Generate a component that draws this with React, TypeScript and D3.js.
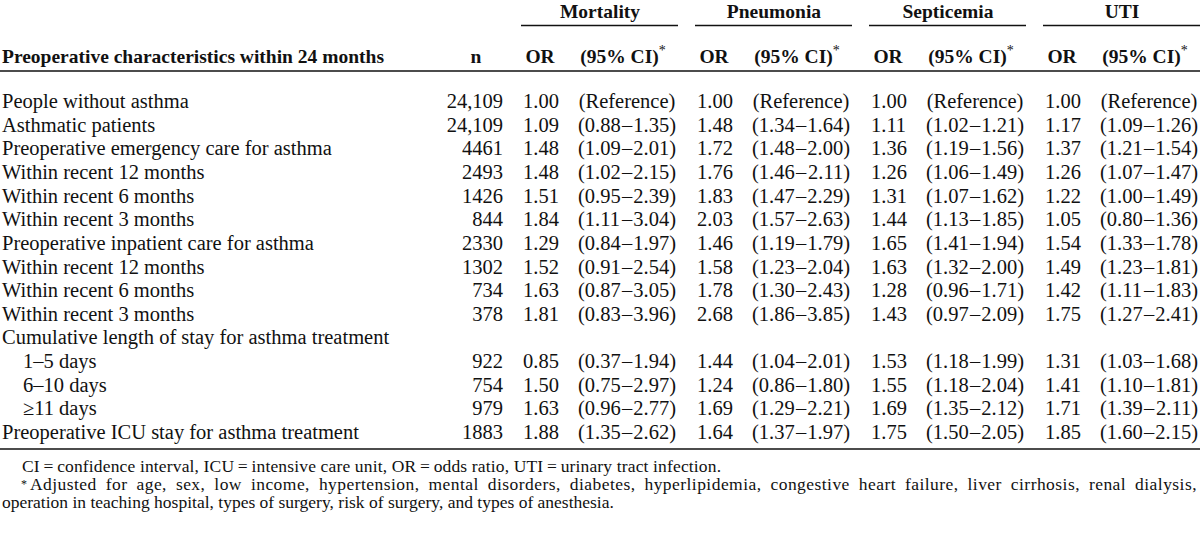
import React, { useLayoutEffect, useRef, useState } from "react";
import * as d3 from "d3";

const outcomes = ["Mortality", "Pneumonia", "Septicemia", "UTI"];
const characteristics = [
  "People without asthma",
  "Asthmatic patients",
  "Preoperative emergency care for asthma",
  "Within recent 12 months",
  "Within recent 6 months",
  "Within recent 3 months",
  "Preoperative inpatient care for asthma",
  "Within recent 12 months",
  "Within recent 6 months",
  "Within recent 3 months",
  "Cumulative length of stay for asthma treatment",
  "1\u20135 days",
  "6\u201310 days",
  "\u226511 days",
  "Preoperative ICU stay for asthma treatment",
];
const indented = [0, 0, 0, 0, 0, 0, 0, 0, 0, 0, 0, 1, 1, 1, 0];
const nValues = ["24,109", "24,109", "4461", "2493", "1426", "844", "2330", "1302", "734", "378", "", "922", "754", "979", "1883"];

const mortalityOR = ["1.00", "1.09", "1.48", "1.48", "1.51", "1.84", "1.29", "1.52", "1.63", "1.81", "", "0.85", "1.50", "1.63", "1.88"];
const mortalityCI = ["(Reference)", "(0.88\u20131.35)", "(1.09\u20132.01)", "(1.02\u20132.15)", "(0.95\u20132.39)", "(1.11\u20133.04)", "(0.84\u20131.97)", "(0.91\u20132.54)", "(0.87\u20133.05)", "(0.83\u20133.96)", "", "(0.37\u20131.94)", "(0.75\u20132.97)", "(0.96\u20132.77)", "(1.35\u20132.62)"];
const pneumoniaOR = ["1.00", "1.48", "1.72", "1.76", "1.83", "2.03", "1.46", "1.58", "1.78", "2.68", "", "1.44", "1.24", "1.69", "1.64"];
const pneumoniaCI = ["(Reference)", "(1.34\u20131.64)", "(1.48\u20132.00)", "(1.46\u20132.11)", "(1.47\u20132.29)", "(1.57\u20132.63)", "(1.19\u20131.79)", "(1.23\u20132.04)", "(1.30\u20132.43)", "(1.86\u20133.85)", "", "(1.04\u20132.01)", "(0.86\u20131.80)", "(1.29\u20132.21)", "(1.37\u20131.97)"];
const septicemiaOR = ["1.00", "1.11", "1.36", "1.26", "1.31", "1.44", "1.65", "1.63", "1.28", "1.43", "", "1.53", "1.55", "1.69", "1.75"];
const septicemiaCI = ["(Reference)", "(1.02\u20131.21)", "(1.19\u20131.56)", "(1.06\u20131.49)", "(1.07\u20131.62)", "(1.13\u20131.85)", "(1.41\u20131.94)", "(1.32\u20132.00)", "(0.96\u20131.71)", "(0.97\u20132.09)", "", "(1.18\u20131.99)", "(1.18\u20132.04)", "(1.35\u20132.12)", "(1.50\u20132.05)"];
const utiOR = ["1.00", "1.17", "1.37", "1.26", "1.22", "1.05", "1.54", "1.49", "1.42", "1.75", "", "1.31", "1.41", "1.71", "1.85"];
const utiCI = ["(Reference)", "(1.09\u20131.26)", "(1.21\u20131.54)", "(1.07\u20131.47)", "(1.00\u20131.49)", "(0.80\u20131.36)", "(1.33\u20131.78)", "(1.23\u20131.81)", "(1.11\u20131.83)", "(1.27\u20132.41)", "", "(1.03\u20131.68)", "(1.10\u20131.81)", "(1.39\u20132.11)", "(1.60\u20132.15)"];

const orSeries = [mortalityOR, pneumoniaOR, septicemiaOR, utiOR];
const ciSeries = [mortalityCI, pneumoniaCI, septicemiaCI, utiCI];

const footnote1 = "CI\u2009=\u2009confidence interval, ICU\u2009=\u2009intensive care unit, OR\u2009=\u2009odds ratio, UTI\u2009=\u2009urinary tract infection.";
const footnote2 = "Adjusted for age, sex, low income, hypertension, mental disorders, diabetes, hyperlipidemia, congestive heart failure, liver cirrhosis, renal dialysis,";
const footnote3 = "operation in teaching hospital, types of surgery, risk of surgery, and types of anesthesia.";

const W = 1200;
const H = 556;
const FONT = "'Liberation Serif', 'Times New Roman', serif";
const FS = 20.5;
const FS_BOLD = 19.5;
const FS_NOTE = 17.5;
const CI_W = 98;
const NOTE2_X = 30;
const NOTE2_END = 1197;
const NOTE2_LETTER = 0.45;

export default function App() {
  const note2Ref = useRef<SVGTextElement | null>(null);
  const [wordSpacing, setWordSpacing] = useState(0);

  useLayoutEffect(() => {
    const el = note2Ref.current;
    if (!el) return;
    const len = el.getComputedTextLength();
    const spaces = footnote2.split(" ").length - 1;
    const extra = (NOTE2_END - NOTE2_X - len) / spaces;
    setWordSpacing(Math.max(0, extra));
  }, []);

  const rowY = d3
    .scaleLinear()
    .domain([0, characteristics.length - 1])
    .range([108, 439]);
  const groupX = d3.scaleLinear().domain([0, 3]).range([523, 1045]);
  const orX = (g: number) => groupX(g);
  const ciX = (g: number) => groupX(g) + 55;

  const renderCI = (s: string, x: number, y: number, key: string) => {
    if (!s) return null;
    const parts = s.split("\u2013");
    if (parts.length !== 2) {
      return (
        <text key={key} x={x + CI_W / 2} y={y} textAnchor="middle">
          {s}
        </text>
      );
    }
    return (
      <text key={key} y={y}>
        <tspan x={x}>{parts[0]}</tspan>
        <tspan x={x + CI_W / 2} textAnchor="middle">{"\u2013"}</tspan>
        <tspan x={x + CI_W} textAnchor="end">{parts[1]}</tspan>
      </text>
    );
  };

  return (
    <svg
      width={W}
      height={H}
      viewBox={`0 0 ${W} ${H}`}
      style={{ position: "absolute", left: 0, top: 0, background: "#fff" }}
      fontFamily={FONT}
      fontSize={FS}
      fill="#111"
    >
      <rect x={0} y={0} width={W} height={H} fill="#fff" />
      {outcomes.map((o, g) => (
        <g key={o} fontWeight="bold" fontSize={FS_BOLD}>
          <text x={orX(g) + 77} y={18} textAnchor="middle">
            {o}
          </text>
          <line x1={orX(g) - 2} x2={orX(g) + 155} y1={25.5} y2={25.5} stroke="#111" strokeWidth={1.3} />
          <text x={orX(g) + 17} y={63} textAnchor="middle">
            OR
          </text>
          <text x={ciX(g) + CI_W / 2 - 4} y={63} textAnchor="middle">
            (95% CI)
            <tspan fontWeight="normal" fontSize={14} dy={-8}>*</tspan>
          </text>
        </g>
      ))}
      <g fontWeight="bold" fontSize={FS_BOLD}>
        <text x={2} y={63}>
          Preoperative characteristics within 24 months
        </text>
        <text x={476} y={63} textAnchor="middle">
          n
        </text>
      </g>
      <line x1={0} x2={W} y1={71} y2={71} stroke="#111" strokeWidth={1.6} />

      {characteristics.map((c, i) => (
        <g key={i}>
          <text x={indented[i] ? 23 : 2} y={rowY(i)}>
            {c}
          </text>
          {nValues[i] && (
            <text x={503} y={rowY(i)} textAnchor="end">
              {nValues[i]}
            </text>
          )}
          {orSeries.map((s, g) =>
            s[i] ? (
              <text key={"or" + g} x={orX(g)} y={rowY(i)}>
                {s[i]}
              </text>
            ) : null
          )}
          {ciSeries.map((s, g) => renderCI(s[i], ciX(g), rowY(i), "ci" + g))}
        </g>
      ))}

      <line x1={0} x2={W} y1={449} y2={449} stroke="#111" strokeWidth={1.6} />

      <g fontSize={FS_NOTE}>
        <text x={22} y={472} style={{ letterSpacing: "0.15px" }}>
          {footnote1}
        </text>
        <text x={21} y={488} fontSize={12}>
          *
        </text>
        <text
          ref={note2Ref}
          x={NOTE2_X}
          y={490}
          style={{ wordSpacing: `${wordSpacing}px`, letterSpacing: `${NOTE2_LETTER}px` }}
        >
          {footnote2}
        </text>
        <text x={2} y={508}>
          {footnote3}
        </text>
      </g>
    </svg>
  );
}
